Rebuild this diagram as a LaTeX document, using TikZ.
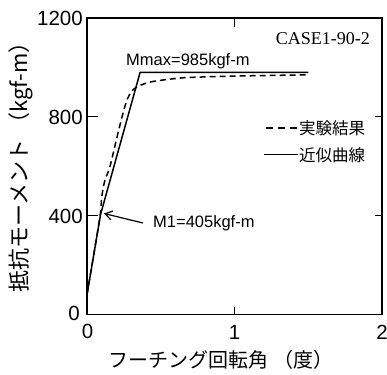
\documentclass[tikz,border=0pt]{standalone}
\usepackage{fontspec}
\setmainfont{Liberation Sans}
\newfontfamily\jpfont{Noto Sans CJK JP}
\newfontfamily\serifont{Liberation Serif}
\usetikzlibrary{arrows.meta}
\begin{document}
\begin{tikzpicture}[x=1pt,y=-1pt,
  axisline/.style={line width=1.4pt},
  tickline/.style={line width=1.2pt},
  solidcurve/.style={line width=1.5pt, line join=round},
  dashcurve/.style={line width=1.5pt, dash pattern=on 6pt off 4pt},
  ticklab/.style={font=\fontsize{20.5}{22}\selectfont, inner sep=0pt},
  annot/.style={font=\fontsize{16.5}{18}\selectfont, inner sep=0pt},
  jplab/.style={font=\jpfont\fontsize{16.5}{18}\selectfont, inner sep=0pt},
]
\useasboundingbox (0,0) rectangle (387,374);
% frame
\draw[axisline] (87,18) rectangle (382,314.5);
% ticks
\draw[tickline] (87,215.7) -- (98,215.7);
\draw[tickline] (87,116.8) -- (98,116.8);
\draw[tickline] (382,215.7) -- (375,215.7);
\draw[tickline] (382,116.8) -- (375,116.8);
\draw[tickline] (234.5,18) -- (234.5,27);
\draw[tickline] (234.5,314.5) -- (234.5,307);
% tick labels
\node[ticklab, anchor=east] (y1200) at (83,18) {1200};
\node[ticklab, anchor=east] (y800) at (83,117) {800};
\node[ticklab, anchor=east] (y400) at (83,216) {400};
\node[ticklab, anchor=east] (y0) at (80,313) {0};
\node[ticklab] (x0) at (87.5,331) {0};
\node[ticklab] (x1) at (234.5,332) {1};
\node[ticklab] (x2) at (382,332) {2};
% axis titles
\node[font=\jpfont\fontsize{22}{24}\selectfont, inner sep=0pt, rotate=90] (ylab) at (21,162) {抵抗モーメント （kgf-m）};
\node[font=\jpfont\fontsize{20}{22}\selectfont, inner sep=0pt] (xlab) at (221,360) {フーチング回転角 （度）};
% case
\node[font=\serifont\fontsize{18}{20}\selectfont, inner sep=0pt, anchor=east] (case) at (370,39) {CASE1-90-2};
% data
\begin{scope}[shift={(87,314.5)}, x=147.5pt, y=0.24708pt]
  \draw[dashcurve] plot[smooth, tension=0.5] coordinates {(0,80) (0.045,240) (0.09,405) (0.10,476) (0.12,540) (0.156,600) (0.21,734) (0.25,828) (0.28,880) (0.325,916) (0.43,941) (0.63,957) (0.77,961) (1.0,965) (1.5,970)};
  \coordinate (s0) at (0,80);
  \coordinate (m1) at (0.092,405);
  \coordinate (mmax) at (0.36,980);
  \coordinate (send) at (1.5,980);
  \draw[solidcurve] (s0) -- (m1) -- (mmax) -- (send);
\end{scope}
% annotations
\node[annot, anchor=west] (mmaxlab) at (126,61) {Mmax=985kgf-m};
\node[annot, anchor=west] (m1lab) at (153,223) {M1=405kgf-m};
\coordinate (m1tip) at (104,213.5);
\draw[line width=1.2pt, -{Straight Barb[length=7pt,width=9pt]}] ([xshift=-10pt]m1lab.west) -- (m1tip);
% legend
\coordinate (lg1a) at (266,128);
\coordinate (lg1b) at (298,128);
\coordinate (lg2a) at (264,154.5);
\coordinate (lg2b) at (298,154.5);
\draw[line width=1.8pt, dash pattern=on 7pt off 5pt] (lg1a) -- (lg1b);
\draw[line width=1.5pt] (lg2a) -- (lg2b);
\node[jplab, anchor=west] (leg1) at (299,128) {実験結果};
\node[jplab, anchor=west] (leg2) at (299,155) {近似曲線};
\end{tikzpicture}
\end{document}
